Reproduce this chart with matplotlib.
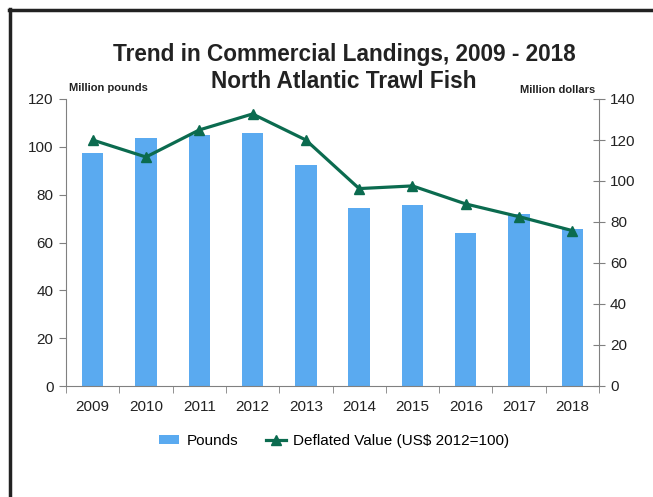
import numpy as np
import matplotlib.pyplot as plt
from matplotlib.lines import Line2D

plt.rcParams["font.family"] = ["Liberation Sans", "DejaVu Sans"]

years = ["2009", "2010", "2011", "2012", "2013", "2014", "2015", "2016", "2017", "2018"]
pounds = [97.4, 103.7, 104.9, 105.6, 92.4, 74.6, 75.7, 63.8, 71.9, 65.6]
deflated_value = [120.0, 111.7, 124.9, 132.7, 120.0, 96.3, 97.6, 88.8, 82.6, 75.8]

bar_color = "#5aaaf0"
line_color = "#0b6b4f"
axis_color = "#808080"

fig = plt.figure(figsize=(6.53, 4.97), dpi=100)
ax = fig.add_axes([66 / 653, 1 - 386 / 497, 533 / 653, 287 / 497])
ax2 = ax.twinx()

x = np.arange(len(years))
ax.bar(x, pounds, width=0.4, color=bar_color, label="Pounds", zorder=2)
ax2.plot(x, deflated_value, color=line_color, lw=2.3, marker="^", ms=7,
         label="Deflated Value (US$ 2012=100)", zorder=3)

ax.set_xlim(-0.5, len(years) - 0.5)
ax.set_ylim(0, 120)
ax2.set_ylim(0, 140)
ax.set_yticks(np.arange(0, 121, 20))
ax2.set_yticks(np.arange(0, 141, 20))

# category labels centred, tick marks between categories
ax.set_xticks(x)
ax.set_xticklabels(years, fontsize=11, color="#222222")
ax.set_xticks(np.arange(-0.5, len(years), 1), minor=True)
ax.tick_params(axis="x", which="major", length=0, pad=10)
ax.tick_params(axis="x", which="minor", length=5, color=axis_color, direction="out")
ax.tick_params(axis="y", length=5, color=axis_color, labelsize=11, labelcolor="#222222", pad=4)
ax2.tick_params(axis="y", length=8, color=axis_color, direction="inout", labelsize=11,
                labelcolor="#222222", pad=4)

for a in (ax, ax2):
    a.spines["top"].set_visible(False)
    for s in ("left", "right", "bottom"):
        a.spines[s].set_color(axis_color)
ax.spines["right"].set_visible(False)
ax2.spines["left"].set_visible(False)
ax2.spines["bottom"].set_visible(False)

fig.text(0.527, 1 - 55 / 497, "Trend in Commercial Landings, 2009 - 2018",
         ha="center", va="center", fontsize=16.3, fontweight="bold", color="#222222")
fig.text(0.527, 1 - 81 / 497, "North Atlantic Trawl Fish",
         ha="center", va="center", fontsize=16.3, fontweight="bold", color="#222222")
fig.text(69 / 653, 1 - 88 / 497, "Million pounds", ha="left", va="center",
         fontsize=8, fontweight="bold", color="#222222")
fig.text(595 / 653, 1 - 90 / 497, "Million dollars", ha="right", va="center",
         fontsize=8, fontweight="bold", color="#222222")

h1, l1 = ax.get_legend_handles_labels()
h2, l2 = ax2.get_legend_handles_labels()
fig.legend(h1 + h2, l1 + l2, loc="center", bbox_to_anchor=(0.512, 1 - 441 / 497),
           ncol=2, frameon=False, fontsize=11, handlelength=1.3, columnspacing=1.8,
           handletextpad=0.5, handleheight=0.5)

# partial frame around the chart
fig.add_artist(Line2D([9.5 / 653, 9.5 / 653], [0, 1 - 9 / 497], color="#222222", lw=2.5,
                      transform=fig.transFigure))
fig.add_artist(Line2D([8.5 / 653, 1], [1 - 9.5 / 497, 1 - 9.5 / 497], color="#222222", lw=2.5,
                      transform=fig.transFigure))

fig.savefig("out.png", dpi=100)
